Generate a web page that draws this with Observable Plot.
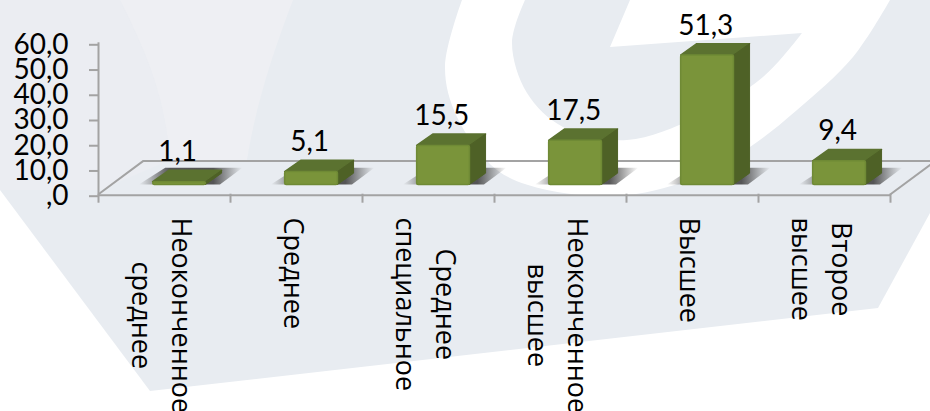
<!DOCTYPE html>
<html><head><meta charset="utf-8">
<script src="https://cdn.jsdelivr.net/npm/d3@7"></script>
<script src="https://cdn.jsdelivr.net/npm/@observablehq/plot@0.6"></script>
<style>
html,body{margin:0;padding:0;background:#fff}
#wrap{position:relative;width:930px;height:411px;overflow:hidden}
#bg,#chart{position:absolute;left:0;top:0}
#chart svg{background:transparent;display:block}
</style></head>
<body><div id="wrap"><svg id="bg" width="930" height="411"></svg><div id="chart"></div></div>
<script>
// Data
const categories = ["Неоконченное\nсреднее","Среднее","Среднее\nспециальное","Неоконченное\nвысшее","Высшее","Второе\nвысшее"];
const values = [1.1,5.1,15.5,17.5,51.3,9.4];
const valueLabels = ["1,1","5,1","15,5","17,5","51,3","9,4"];
const yTicks = [0,10,20,30,40,50,60];

// Pseudo-3D geometry, in scale units
const barStart=0.414, barWidth=0.4, barBase=3.65, depthX=0.122, depthY=4.5;
const floorX=0.34, floorY=13.2;
const numFont="Lato", catFont="Open Sans", catSize=27, numSize=28;

// Watermark
const curve=d3.line().curve(d3.curveCatmullRom);
const bg=d3.select("#bg");
bg.append("polygon").attr("points","0,0 930,0 930,213 878,308 150,391 0,190").attr("fill","#e8ecf1");
bg.append("path").attr("d","M120,0L293,0C270,60 255,110 247,160L170,160C165,100 150,60 120,0Z").attr("fill","#eeeff3");
bg.append("path").attr("d","M0,0L120,0C150,60 165,100 170,160L100,190L0,190Z").attr("fill","#ebedf2");
bg.append("path").attr("fill","#fff").attr("d",curve([[462,0],[445,67],[457,117],[497,170],[547,190],[627,195],[697,177],[750,147],[797,110],[853,57],[890,0]])+"Z");
bg.append("path").attr("fill","#e8ecf1").attr("d",curve([[525,0],[512,43],[527,93],[563,127],[627,140],[697,117],[763,77],[802,33]])+"L610,47L630,0Z");

const bars=values.map((v,i)=>({i,v,cat:categories[i],lab:valueLabels[i],left:i+barStart,right:i+barStart+barWidth}));
const topFace=bars.flatMap(d=>[0,1].map(t=>({i:d.i,x1:d.left+t*depthX,x2:d.right+t*depthX,y:barBase+d.v+t*depthY})));
const sideFace=bars.flatMap(d=>[0,1].map(t=>({i:d.i,x:d.right+t*depthX,y1:barBase+t*depthY,y2:barBase+d.v+t*depthY})));
const shadow=bars.flatMap(d=>[0,1].map(t=>({i:d.i,x1:d.left-0.105+t*0.2,x2:d.right+0.11+t*0.17,y:barBase+t*6.6})));

const cv=document.createElement("canvas").getContext("2d");
cv.font=`${catSize}px "${catFont}"`;
const labelTop=217, axisPx=193.7;
const longest=c=>d3.max(c.split("\n"),s=>cv.measureText(s).width);

const defs=()=>{
  const ns="http://www.w3.org/2000/svg";
  const g=document.createElementNS(ns,"defs");
  g.innerHTML=`<linearGradient id="sh"><stop offset="0" stop-color="#444" stop-opacity="0"/><stop offset=".3" stop-color="#444" stop-opacity=".9"/><stop offset=".72" stop-color="#444" stop-opacity=".9"/><stop offset="1" stop-color="#444" stop-opacity="0"/></linearGradient>`;
  return g;
};

const chart=Plot.plot({
  width:930,height:411,
  marginLeft:98,marginRight:40,marginTop:42.3,marginBottom:217.3,
  x:{domain:[0,6],axis:null},
  y:{domain:[0,60],axis:null},
  marks:[
    defs,
    Plot.line([[0,0],[floorX,floorY],[6+floorX,floorY],[6,0]],{x:"0",y:"1",stroke:"#a3a3a3",strokeWidth:2}),
    Plot.ruleY([0],{x1:0,x2:6,dy:1,stroke:"#a3a3a3",strokeWidth:2}),
    Plot.ruleX([0],{y1:0,y2:60,stroke:"#a3a3a3",strokeWidth:2}),
    Plot.axisX({ticks:d3.range(7),tickFormat:()=>"",tickSize:9,stroke:"#a3a3a3",strokeWidth:2}),
    Plot.axisY({ticks:yTicks,tickSize:9,tickPadding:21,stroke:"#a3a3a3",strokeWidth:2,fill:"#000",fontSize:numSize,fontFamily:numFont,dy:2,
      tickFormat:d=>d===0?",0":d.toFixed(1).replace(".",",")}),
    Plot.area(shadow,{x1:"x1",x2:"x2",y1:"y",y2:"y",z:"i",fill:"url(#sh)"}),
    Plot.area(topFace,{x1:"x1",x2:"x2",y1:"y",y2:"y",z:"i",fill:"#5b7230",stroke:"#5b7230",strokeWidth:1.5,strokeLinejoin:"round"}),
    Plot.area(sideFace,{x1:"x",x2:"x",y1:"y1",y2:"y2",z:"i",fill:"#4e6126",stroke:"#4e6126",strokeWidth:1,strokeLinejoin:"round"}),
    Plot.rect(bars,{x1:"left",x2:"right",y1:barBase,y2:d=>barBase+d.v,fill:"#7a943a",stroke:"#6f8a35",strokeWidth:1.5,rx:1.5}),
    Plot.text(bars,{x:d=>d.i+0.6,y:d=>barBase+d.v,text:"lab",dy:-21,lineAnchor:"bottom",fontSize:numSize,fontFamily:numFont,fill:"#000"}),
    Plot.text(bars,{x:d=>d.i+0.5,y:0,text:"cat",rotate:90,dx:0,dy:0,fontSize:catSize,fontFamily:catFont,fill:"#000",lineHeight:1.48,
      textAnchor:"middle"})
  ]
});
// category labels: shift each block so its longest line starts at the same distance below the axis
d3.select(chart).selectAll("g[aria-label='text']").filter((d,i)=>i===1).selectAll("text").each(function(_,i){
  const c=categories[i];
  const cy=labelTop+longest(c)/2-axisPx;
  const t=this.getAttribute("transform");
  this.setAttribute("transform",`translate(0,${cy}) `+t);
});
document.getElementById("chart").append(chart);
</script></body></html>
